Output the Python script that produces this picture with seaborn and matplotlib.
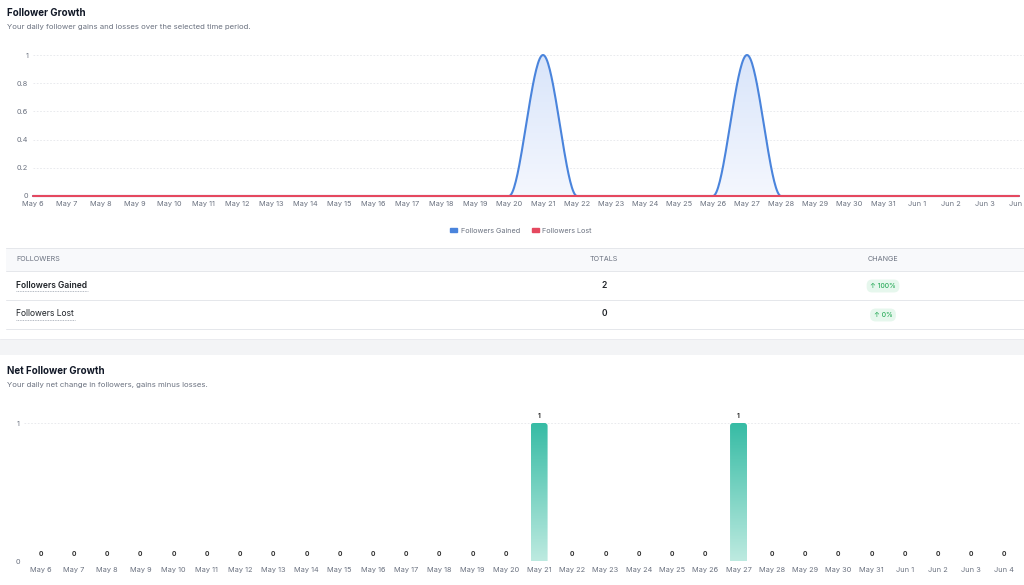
import numpy as np
import pandas as pd
import matplotlib
matplotlib.use("Agg")
import matplotlib.pyplot as plt
import seaborn as sns
from matplotlib.patches import Patch, Rectangle, FancyBboxPatch
from matplotlib.colors import LinearSegmentedColormap

# Data
days = ["May 6", "May 7", "May 8", "May 9", "May 10", "May 11", "May 12", "May 13",
        "May 14", "May 15", "May 16", "May 17", "May 18", "May 19", "May 20", "May 21",
        "May 22", "May 23", "May 24", "May 25", "May 26", "May 27", "May 28", "May 29",
        "May 30", "May 31", "Jun 1", "Jun 2", "Jun 3", "Jun 4"]
gained = [0, 0, 0, 0, 0, 0, 0, 0, 0, 0, 0, 0, 0, 0, 0, 1,
          0, 0, 0, 0, 0, 1, 0, 0, 0, 0, 0, 0, 0, 0]
lost = [0] * 30
net = [0, 0, 0, 0, 0, 0, 0, 0, 0, 0, 0, 0, 0, 0, 0, 1,
       0, 0, 0, 0, 0, 1, 0, 0, 0, 0, 0, 0, 0, 0]
table_rows = ["Followers Gained", "Followers Lost"]
table_totals = [2, 0]
table_change = ["\u2191 100%", "\u2191 0%"]

sns.set_theme(style="white")
plt.rcParams["font.family"] = ["Inter", "DejaVu Sans"]

W, H = 1024, 585
fig = plt.figure(figsize=(W / 100, H / 100), dpi=100)
fig.patch.set_facecolor("white")

def rect(x0, y0, x1, y1):
    return [x0 / W, 1 - y1 / H, (x1 - x0) / W, (y1 - y0) / H]

grey = "#6b7280"
dark = "#111827"
gridc = "#e5e7eb"

# background / page layer
bg = fig.add_axes([0, 0, 1, 1], zorder=0)
bg.set_xlim(0, W)
bg.set_ylim(H, 0)
bg.axis("off")

bg.text(7, 13, "Follower Growth", fontsize=7, fontweight="bold", color=dark, va="center")
bg.text(7, 27, "Your daily follower gains and losses over the selected time period.",
        fontsize=5.6, color=grey, va="center")
bg.text(7, 371, "Net Follower Growth", fontsize=7, fontweight="bold", color=dark, va="center")
bg.text(7, 385, "Your daily net change in followers, gains minus losses.",
        fontsize=5.6, color=grey, va="center")

# table
bg.add_patch(Rectangle((6, 248), W - 6, 23, color="#f8f9fb", lw=0))
for yy in [248, 271, 300, 329]:
    bg.plot([6, W], [yy, yy], color=gridc, lw=0.7)
bg.add_patch(Rectangle((0, 339), W, 16, color="#f3f4f6", lw=0))
bg.plot([0, W], [339, 339], color="#e9eaee", lw=0.6)
bg.text(16, 259, "FOLLOWERS", fontsize=5.2, color=grey, va="center")
bg.text(604, 259, "TOTALS", fontsize=5.2, color=grey, va="center", ha="center")
bg.text(883, 259, "CHANGE", fontsize=5.2, color=grey, va="center", ha="center")
row_y = [285, 314]
weights = ["semibold", "normal"]
ul = [88, 75]
for name, tot, chg, yy, wt, ux in zip(table_rows, table_totals, table_change, row_y, weights, ul):
    bg.text(16, yy, name, fontsize=6.1, color="#1f2328", fontweight=wt, va="center")
    bg.plot([16, ux], [yy + 6, yy + 6], color="#9ca3af", lw=0.6, ls=(0, (1, 1)))
    bg.text(604, yy, str(tot), fontsize=6.2, color="#1f2328", fontweight="semibold",
            va="center", ha="center")
    bg.text(883, yy + 1, chg, fontsize=5, color="#16a34a", va="center", ha="center",
            bbox=dict(boxstyle="round,pad=0.5,rounding_size=0.8", fc="#e6f7ed", ec="none"))

# ---- top chart: follower growth ----
ax = fig.add_axes(rect(33, 50, W, 196), zorder=1)
ax.set_facecolor("none")
x = np.arange(len(days))

def monotone(xv, yv, n=40):
    xv = np.asarray(xv, float)
    yv = np.asarray(yv, float)
    d = np.diff(yv) / np.diff(xv)
    m = np.zeros_like(yv)
    m[0], m[-1] = d[0], d[-1]
    for i in range(1, len(yv) - 1):
        if d[i - 1] * d[i] > 0:
            m[i] = 2 / (1 / d[i - 1] + 1 / d[i])
    xs, ys = [], []
    for i in range(len(xv) - 1):
        h = xv[i + 1] - xv[i]
        t = np.linspace(0, 1, n, endpoint=False)
        h00 = 2 * t**3 - 3 * t**2 + 1
        h10 = t**3 - 2 * t**2 + t
        h01 = -2 * t**3 + 3 * t**2
        h11 = t**3 - t**2
        xs.append(xv[i] + t * h)
        ys.append(h00 * yv[i] + h10 * h * m[i] + h01 * yv[i + 1] + h11 * h * m[i + 1])
    xs.append([xv[-1]])
    ys.append([yv[-1]])
    return np.concatenate(xs), np.concatenate(ys)

sx, sy = monotone(x, gained)
poly = ax.fill_between(sx, sy, 0, color="none", lw=0)
grad = np.linspace(0, 1, 100).reshape(-1, 1)
blue_fill = LinearSegmentedColormap.from_list("bf", ["#f4f7fe", "#d9e5fa"])
img = ax.imshow(grad, extent=[x[0], x[-1], 0, 1], aspect="auto", origin="lower",
                cmap=blue_fill, zorder=1)
img.set_clip_path(poly.get_paths()[0], transform=ax.transData)

sns.lineplot(x=sx, y=sy, ax=ax, color="#4a84dc", lw=1.5, zorder=3)
sns.lineplot(x=x, y=lost, ax=ax, color="#e5485f", lw=1.5, zorder=4)
for ln in ax.lines:
    ln.set_clip_on(False)

ax.set_xlim(0, (W - 33) / 34)
ax.set_ylim(0, 146 / 141)
ax.set_yticks([0, 0.2, 0.4, 0.6, 0.8, 1])
ax.set_yticklabels(["0", "0.2", "0.4", "0.6", "0.8", "1"])
ax.set_xticks(x)
ax.set_xticklabels(days)
ax.yaxis.grid(True, color=gridc, lw=0.6, ls=(0, (2, 2)))
ax.xaxis.grid(False)
ax.tick_params(axis="both", length=0, labelsize=5.3, labelcolor=grey)
ax.tick_params(axis="x", pad=3.5)
ax.tick_params(axis="y", pad=3.5)
for s in ax.spines.values():
    s.set_visible(False)
ax.set_xlabel("")
ax.set_ylabel("")

fig.legend(handles=[Patch(color="#4a84dc", label="Followers Gained"),
                    Patch(color="#e5485f", label="Followers Lost")],
           loc="center", bbox_to_anchor=(521 / W, 1 - 231 / H), ncol=2, frameon=False,
           handlelength=1.0, handleheight=0.5, handletextpad=0.5, columnspacing=1.6,
           fontsize=5.2, labelcolor=grey)

# ---- bottom chart: net follower growth ----
ax2 = fig.add_axes(rect(24, 405, 1021, 561), zorder=1)
ax2.set_facecolor("none")
df = pd.DataFrame({"day": days, "net": net})
sns.barplot(data=df, x="day", y="net", order=days, color="#3dbfaa", width=0.51,
            ax=ax2, zorder=2)

teal = LinearSegmentedColormap.from_list("teal", ["#bdeae0", "#37bca5"])
for p in ax2.patches:
    h = p.get_height()
    p.set_facecolor("none")
    p.set_edgecolor("none")
    if h > 0:
        x0, w = p.get_x(), p.get_width()
        im = ax2.imshow(grad, extent=[x0, x0 + w, 0, h], aspect="auto", origin="lower",
                        cmap=teal, zorder=2)
        clip = FancyBboxPatch((x0, -0.1), w, h + 0.1,
                              boxstyle="round,pad=0,rounding_size=0.09",
                              mutation_aspect=0.24, transform=ax2.transData)
        im.set_clip_path(clip)

ax2.bar_label(ax2.containers[0], labels=[str(v) for v in net], padding=3,
              fontsize=4.8, fontweight="bold", color="#333333")

ax2.set_xlim(-0.5, len(days) - 0.5)
ax2.set_ylim(0, 156 / 138)
ax2.set_yticks([0, 1])
ax2.set_yticklabels(["0", "1"])
ax2.set_xlabel("")
ax2.set_ylabel("")
ax2.yaxis.grid(True, color=gridc, lw=0.6, ls=(0, (2, 2)))
ax2.xaxis.grid(False)
ax2.tick_params(axis="both", length=0, labelsize=5.3, labelcolor=grey)
ax2.tick_params(axis="x", pad=4)
ax2.tick_params(axis="y", pad=3)
for s in ax2.spines.values():
    s.set_visible(False)

fig.savefig("out.png", dpi=100, facecolor="white")
